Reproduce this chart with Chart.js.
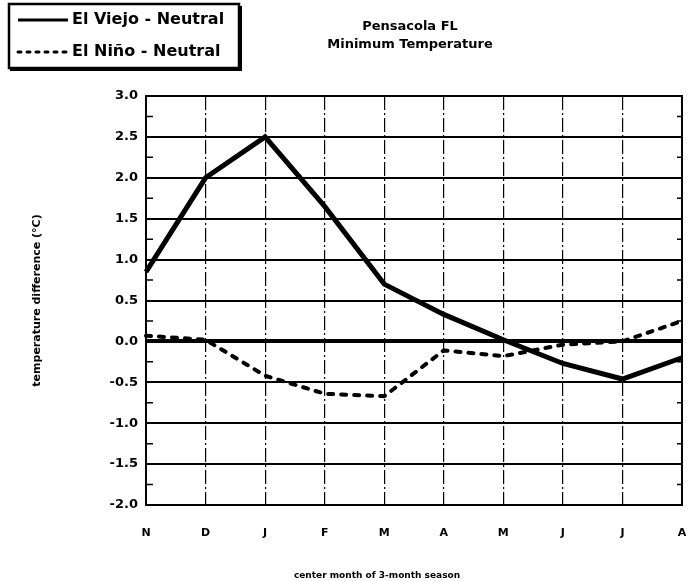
<!DOCTYPE html>
<html>
<head>
<meta charset="utf-8">
<script src="https://cdn.jsdelivr.net/npm/chart.js"></script>
<style>
  body { margin: 0; background: #fff; }
  canvas { display: block; }
</style>
</head>
<body>
<canvas id="tempChart" width="688" height="581"></canvas>
<script>
var meses = ['N', 'D', 'J', 'F', 'M', 'A', 'M', 'J', 'J', 'A'];
var elViejo = [0.85, 2.0, 2.5, 1.65, 0.7, 0.33, 0.02, -0.27, -0.46, -0.2];
var elNino = [0.07, 0.02, -0.42, -0.64, -0.67, -0.11, -0.18, -0.04, 0.0, 0.25];
var titulo = ['Pensacola FL', 'Minimum Temperature'];
var tituloX = 'center month of 3-month season';
var tituloY = 'temperature difference (°C)';

var fonte = "'DejaVu Sans', sans-serif";

// titulo, legenda em caixa, moldura e marcas menores
var extras = {
    id: 'extras',
    afterDraw: function(chart) {
        var ctx = chart.ctx;
        var area = chart.chartArea;
        var y = chart.scales.y;
        ctx.save();

        // moldura
        ctx.strokeStyle = '#000';
        ctx.lineWidth = 2;
        ctx.strokeRect(area.left, area.top, area.right - area.left, area.bottom - area.top);

        // marcas menores entre as linhas de grade
        ctx.lineWidth = 1.5;
        var t = y.ticks;
        for (var i = 0; i < t.length - 1; i++) {
            var py = y.getPixelForValue((t[i].value + t[i + 1].value) / 2);
            ctx.beginPath();
            ctx.moveTo(area.left, py); ctx.lineTo(area.left + 7, py);
            ctx.moveTo(area.right, py); ctx.lineTo(area.right - 5, py);
            ctx.stroke();
        }

        // titulo
        ctx.fillStyle = '#000';
        ctx.textAlign = 'center';
        ctx.textBaseline = 'middle';
        ctx.font = 'bold 13px ' + fonte;
        ctx.fillText(titulo[0], 410, 27);
        ctx.fillText(titulo[1], 410, 45);

        // titulo do eixo x
        ctx.font = 'bold 9px ' + fonte;
        ctx.fillText(tituloX, 377, 576);

        // legenda
        ctx.lineWidth = 2.5;
        ctx.strokeRect(9, 4, 230, 64);
        ctx.fillRect(10, 67, 232, 4);
        ctx.fillRect(238, 6, 4, 65);

        ctx.textAlign = 'left';
        ctx.font = 'bold 16px ' + fonte;
        chart.data.datasets.forEach(function(ds, k) {
            var ly = k === 0 ? 20 : 52;
            ctx.save();
            ctx.lineWidth = 3;
            ctx.lineCap = ds.borderCapStyle || 'butt';
            ctx.setLineDash(ds.borderDash ? [3, 6] : []);
            ctx.beginPath();
            ctx.moveTo(18, ly); ctx.lineTo(68, ly);
            ctx.stroke();
            ctx.restore();
            ctx.fillText(ds.label, 72, ly);
        });
        ctx.restore();
    }
};

var ctx = document.getElementById('tempChart').getContext('2d');
new Chart(ctx, {
    type: 'line',
    data: {
        labels: meses,
        datasets: [{
            label: 'El Viejo - Neutral',
            data: elViejo,
            borderColor: '#000',
            borderWidth: 5,
            pointRadius: 0,
            tension: 0
        }, {
            label: 'El Niño - Neutral',
            data: elNino,
            borderColor: '#000',
            borderWidth: 4,
            borderDash: [5, 8],
            borderCapStyle: 'round',
            pointRadius: 0,
            tension: 0
        }]
    },
    options: {
        responsive: false,
        animation: false,
        layout: { padding: { top: 96, right: 6, bottom: 0, left: 0 } },
        plugins: {
            legend: { display: false },
            tooltip: { enabled: false }
        },
        scales: {
            x: {
                offset: false,
                afterFit: function(scale) {
                    scale.height = 76;
                    // o padding dos ticks empurrava a area do grafico
                    scale.paddingLeft = 0;
                    scale.paddingRight = 0;
                },
                grid: {
                    color: '#000',
                    lineWidth: 1.2,
                    drawTicks: false
                },
                border: { display: true, color: '#000', width: 2, dash: [14, 3, 2, 3] },
                ticks: {
                    color: '#000',
                    padding: 22,
                    maxRotation: 0,
                    autoSkip: false,
                    font: { family: fonte, size: 11, weight: 'bold' }
                }
            },
            y: {
                min: -2,
                max: 3,
                afterFit: function(scale) { scale.width = 146; },
                grid: {
                    color: '#000',
                    lineWidth: function(c) { return c.tick && c.tick.value === 0 ? 4 : 2; },
                    drawTicks: false
                },
                border: { display: true, color: '#000', width: 2 },
                ticks: {
                    stepSize: 0.5,
                    color: '#000',
                    padding: 8,
                    font: { family: fonte, size: 13, weight: 'bold' },
                    callback: function(v) { return v.toFixed(1); }
                },
                title: {
                    display: true,
                    text: tituloY,
                    color: '#000',
                    padding: { top: 31, bottom: 0 },
                    font: { family: fonte, size: 11, weight: 'bold', lineHeight: 1.2 }
                }
            }
        }
    },
    plugins: [extras]
});
</script>
</body>
</html>
